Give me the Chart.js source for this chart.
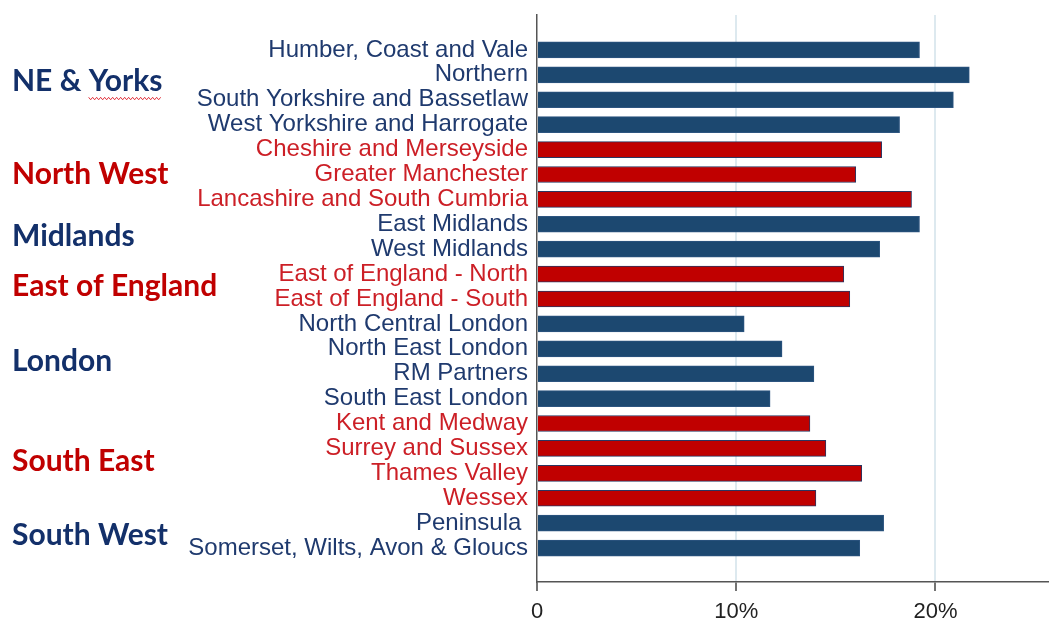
<!DOCTYPE html>
<html>
<head>
<meta charset="utf-8">
<script src="https://cdn.jsdelivr.net/npm/chart.js@4/dist/chart.umd.min.js"></script>
<style>
    html, body { margin: 0; padding: 0; background: #fff; }
    #wrap { width: 1049px; height: 622px; }
</style>
</head>
<body>
<div id="wrap"><canvas id="region-chart"></canvas></div>
<script>
// Regions (top to bottom), their group and the value in %
const regionNames = [
    'Humber, Coast and Vale', 'Northern', 'South Yorkshire and Bassetlaw', 'West Yorkshire and Harrogate',
    'Cheshire and Merseyside', 'Greater Manchester', 'Lancashire and South Cumbria',
    'East Midlands', 'West Midlands',
    'East of England - North', 'East of England - South',
    'North Central London', 'North East London', 'RM Partners', 'South East London',
    'Kent and Medway', 'Surrey and Sussex', 'Thames Valley', 'Wessex',
    'Peninsula ', 'Somerset, Wilts, Avon & Gloucs'
];
const regionGroup = [0, 0, 0, 0, 1, 1, 1, 2, 2, 3, 3, 4, 4, 4, 4, 5, 5, 5, 5, 6, 6];
const groupNames = ['NE & Yorks', 'North West', 'Midlands', 'East of England', 'London', 'South East', 'South West'];
const values = [19.2, 21.7, 20.9, 18.2, 17.3, 16.0, 18.8, 19.2, 17.2, 15.4, 15.7, 10.4, 12.3, 13.9, 11.7, 13.7, 14.5, 16.3, 14.0, 17.4, 16.2];
const xTicks = [0, 10, 20];

const BLUE = '#1c4870';
const RED = '#c00000';
const BLUE_TEXT = '#1f3a6e';
const RED_TEXT = '#cc1f26';
const GROUP_BLUE = '#13306a';

function isRed(i) {
    return regionGroup[i] % 2 === 1;
}

// group headings on the left, centred on their rows
const groupLabels = {
    id: 'groupLabels',
    afterDraw(chart) {
        const ctx = chart.ctx;
        const y = chart.scales.y;
        ctx.save();
        ctx.font = 'bold 30px Lato, "Open Sans", sans-serif';
        ctx.textAlign = 'left';
        ctx.textBaseline = 'middle';
        groupNames.forEach((name, g) => {
            const rows = regionGroup.map((grp, i) => grp === g ? i : -1).filter(i => i >= 0);
            const top = y.getPixelForValue(rows[0]);
            const bottom = y.getPixelForValue(rows[rows.length - 1]);
            let cy = (top + bottom) / 2;
            if (g === 0) cy -= 6;
            ctx.fillStyle = g % 2 ? RED : GROUP_BLUE;
            ctx.fillText(name, 12, cy);
            if (g === 0) {
                // spell-check squiggle under "Yorks"
                const x0 = 12 + ctx.measureText('NE & ').width;
                const x1 = 12 + ctx.measureText(name).width;
                ctx.strokeStyle = '#e0303a';
                ctx.lineWidth = 1;
                ctx.beginPath();
                for (let x = x0, k = 0; x <= x1; x += 2, k++) {
                    const yy = cy + 17 + (k % 2 ? 1.5 : -1);
                    if (k === 0) ctx.moveTo(x, yy); else ctx.lineTo(x, yy);
                }
                ctx.stroke();
            }
        });
        ctx.restore();
    }
};

function renderRegionChart() {
    const ctx = document.getElementById('region-chart').getContext('2d');
    Chart.defaults.font.family = '"Liberation Sans", Arial, sans-serif';

    new Chart(ctx, {
        type: 'bar',
        data: {
            datasets: [{
                data: values.map((v, i) => ({ x: v, y: i })),
                backgroundColor: values.map((v, i) => isRed(i) ? RED : BLUE),
                borderColor: values.map((v, i) => isRed(i) ? '#2a3560' : '#2d5580'),
                borderWidth: 1,
                borderSkipped: 'left',
                barThickness: 16
            }]
        },
        options: {
            indexAxis: 'y',
            animation: false,
            responsive: true,
            maintainAspectRatio: false,
            layout: { padding: { top: 15, right: 0, left: 0, bottom: 0 } },
            plugins: {
                legend: { display: false },
                tooltip: { enabled: false }
            },
            scales: {
                y: {
                    type: 'linear',
                    bounds: 'data',
                    reverse: true,
                    min: -0.86,
                    max: 20.82,
                    afterBuildTicks: scale => {
                        scale.ticks = regionNames.map((n, i) => ({ value: i }));
                    },
                    afterFit: scale => {
                        scale.width = 537;
                        scale.paddingTop = 0;
                        scale.paddingBottom = 0;
                    },
                    grid: { display: false, drawTicks: false },
                    border: { display: true, color: '#555', width: 1.5 },
                    ticks: {
                        autoSkip: false,
                        padding: 9,
                        font: { size: 24 },
                        color: c => isRed(c.index) ? RED_TEXT : BLUE_TEXT,
                        callback: v => regionNames[v]
                    }
                },
                x: {
                    bounds: 'data',
                    min: 0,
                    max: 25.7,
                    afterBuildTicks: scale => {
                        scale.ticks = xTicks.map(v => ({ value: v }));
                    },
                    afterFit: scale => { scale.height = 40; },
                    grid: {
                        color: c => c.tick && c.tick.value === 0 ? 'rgba(0,0,0,0)' : '#dde9ef',
                        lineWidth: 2,
                        tickColor: '#444',
                        tickLength: 9,
                        tickWidth: 1.5
                    },
                    border: { display: true, color: '#555', width: 1.5 },
                    ticks: {
                        padding: 8,
                        font: { size: 22 },
                        color: '#222',
                        maxRotation: 0,
                        callback: v => v === 0 ? '0' : v + '%'
                    }
                }
            }
        },
        plugins: [groupLabels]
    });
}

renderRegionChart();
</script>
</body>
</html>
